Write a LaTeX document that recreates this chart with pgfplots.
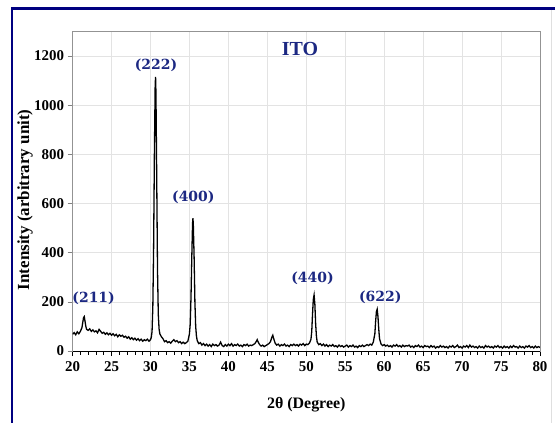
\documentclass[border=0pt]{standalone}
\usepackage{pgfplots}
\pgfplotsset{compat=1.18}
\usepackage{fontspec}
\setmainfont{Liberation Serif}
\newfontfamily\labfont{DejaVu Serif}
\definecolor{navyfr}{RGB}{0,0,128}
\definecolor{lblue}{RGB}{28,40,130}
\begin{document}
\begin{tikzpicture}
\begin{axis}[name=ax,
  scale only axis, width=467.4bp, height=319.6bp,
  xmin=20, xmax=80, ymin=0, ymax=1300,
  xtick={20,25,...,80}, ytick={0,200,...,1200},
  minor x tick num=4,
  tick align=outside,
  major tick length=5bp, minor tick length=3.5bp,
  xtick pos=bottom, ytick pos=left,
  grid=major, major grid style={gray!22, line width=0.6bp},
  axis line style={draw=gray!85, line width=0.8bp},
  x tick style={black, line width=0.6bp},
  y tick style={gray, line width=0.6bp},
  /pgf/number format/assume math mode=true,
  /pgf/number format/1000 sep={},
  ticklabel style={font=\bfseries\fontsize{15}{15}\selectfont, text=black},
  xticklabel style={yshift=-2bp},
  xlabel={2θ (Degree)}, ylabel={Intensity (arbitrary unit)},
  xlabel style={font=\bfseries\fontsize{16}{16}\selectfont, at={(axis description cs:0.5,0)}, anchor=center, yshift=-54bp},
  ylabel style={font=\bfseries\fontsize{17}{17}\selectfont, at={(axis description cs:-0.1018,0.473)}, anchor=center},
]
\addplot[black, line width=1.3bp] coordinates {
(20.0,68)(20.2,75)(20.4,66)(20.6,78)(20.8,70)(21.0,80)(21.2,95)(21.3,115)(21.4,135)(21.5,140)(21.6,120)(21.7,100)(21.8,88)
(22.0,84)(22.2,90)(22.4,80)(22.6,86)(22.8,78)(23.0,82)(23.2,74)(23.4,88)(23.6,80)(23.8,72)(24.0,76)(24.2,68)(24.4,74)(24.6,66)(24.8,72)
(25.0,64)(25.2,70)(25.4,62)(25.6,68)(25.8,58)(26.0,66)(26.2,60)(26.4,64)(26.6,56)(26.8,60)(27.0,52)(27.2,58)(27.4,48)(27.6,54)(27.8,46)
(28.0,52)(28.2,44)(28.4,50)(28.6,42)(28.8,48)(29.0,40)(29.2,46)(29.4,42)(29.6,48)(29.8,40)(30.0,46)(30.1,55)(30.2,80)(30.3,180)(30.4,420)
(30.5,800)(30.6,1080)(30.65,1115)(30.7,1050)(30.8,700)(30.9,330)(31.0,150)(31.1,90)(31.2,70)(31.4,58)(31.6,50)(31.8,38)
(32.0,42)(32.2,34)(32.4,38)(32.6,32)(32.8,40)(33.0,46)(33.2,38)(33.4,42)(33.6,34)(33.8,38)(34.0,30)(34.2,36)(34.4,30)(34.6,34)(34.8,40)
(35.0,70)(35.1,110)(35.2,220)(35.3,380)(35.4,520)(35.45,540)(35.5,510)(35.6,380)(35.7,200)(35.8,100)(35.9,60)(36.0,42)(36.2,30)(36.4,34)
(36.6,24)(36.8,30)(37.0,22)(37.2,28)(37.4,20)(37.6,26)(37.8,18)(38.0,28)(38.2,22)(38.4,26)(38.6,20)(38.8,24)(39.0,36)(39.2,22)(39.4,18)
(39.6,26)(39.8,20)(40.0,28)(40.2,22)(40.4,30)(40.6,20)(40.8,26)(41.0,22)(41.2,28)(41.4,20)(41.6,24)(41.8,18)(42.0,26)(42.2,22)(42.4,28)
(42.6,20)(42.8,24)(43.0,22)(43.2,26)(43.4,30)(43.6,40)(43.7,46)(43.8,38)(44.0,26)(44.2,20)(44.4,24)(44.6,18)(44.8,22)(45.0,26)(45.2,30)
(45.4,38)(45.6,58)(45.7,64)(45.8,52)(46.0,32)(46.2,24)(46.4,28)(46.6,20)(46.8,26)(47.0,22)(47.2,28)(47.4,20)(47.6,24)(47.8,18)(48.0,26)
(48.2,22)(48.4,28)(48.6,22)(48.8,26)(49.0,20)(49.2,28)(49.4,24)(49.6,30)(49.8,22)(50.0,28)(50.2,26)(50.4,32)(50.6,48)(50.7,80)(50.8,150)
(50.9,210)(51.0,228)(51.1,190)(51.2,110)(51.3,60)(51.4,36)(51.6,26)(51.8,30)(52.0,22)(52.2,28)(52.4,20)(52.6,26)(52.8,18)(53.0,24)
(53.2,20)(53.4,26)(53.6,18)(53.8,22)(54.0,16)(54.2,24)(54.4,18)(54.6,22)(54.8,16)(55.0,20)(55.2,24)(55.4,16)(55.6,22)(55.8,18)(56.0,24)
(56.2,16)(56.4,20)(56.6,14)(56.8,22)(57.0,18)(57.2,24)(57.4,18)(57.6,22)(57.8,26)(58.0,22)(58.2,28)(58.4,24)(58.6,36)(58.8,70)(58.9,120)
(59.0,160)(59.1,170)(59.2,140)(59.3,90)(59.4,50)(59.6,28)(59.8,22)(60.0,26)
(60.2,20)(60.4,24)(60.6,18)(60.8,22)(61.0,16)(61.2,24)(61.4,20)(61.6,26)(61.8,18)(62.0,22)(62.2,16)(62.4,24)(62.6,18)(62.8,22)(63.0,20)
(63.2,24)(63.4,16)(63.6,20)(63.8,14)(64.0,22)(64.2,18)(64.4,24)(64.6,16)(64.8,20)(65.0,14)(65.2,22)(65.4,18)(65.6,20)(65.8,14)(66.0,22)
(66.2,16)(66.4,20)(66.6,12)(66.8,18)(67.0,14)(67.2,22)(67.4,16)(67.6,20)(67.8,14)(68.0,18)(68.2,12)(68.4,20)(68.6,16)(68.8,22)(69.0,14)
(69.2,18)(69.4,24)(69.6,14)(69.8,18)(70.0,12)(70.2,20)(70.4,16)(70.6,22)(70.8,14)(71.0,24)(71.2,16)(71.4,20)(71.6,14)(71.8,18)(72.0,12)
(72.2,20)(72.4,14)(72.6,18)(72.8,12)(73.0,22)(73.2,16)(73.4,20)(73.6,14)(73.8,18)(74.0,12)(74.2,20)(74.4,16)(74.6,22)(74.8,14)(75.0,18)
(75.2,12)(75.4,20)(75.6,14)(75.8,18)(76.0,12)(76.2,20)(76.4,14)(76.6,22)(76.8,16)(77.0,18)(77.2,12)(77.4,20)(77.6,14)(77.8,18)(78.0,12)
(78.2,20)(78.4,16)(78.6,22)(78.8,14)(79.0,18)(79.2,12)(79.4,20)(79.6,14)(79.8,18)(80.0,14)
};
\draw[black, line width=0.8bp] (rel axis cs:0,0) -- (rel axis cs:1,0);
\node[text=lblue, font=\bfseries\fontsize{20}{20}\selectfont] at (axis cs:49.2,1228) {ITO};
\node[text=lblue, font=\labfont\bfseries\fontsize{14}{14}\selectfont] at (axis cs:30.7,1163) {(222)};
\node[text=lblue, font=\labfont\bfseries\fontsize{14}{14}\selectfont] at (axis cs:35.5,626) {(400)};
\node[text=lblue, font=\labfont\bfseries\fontsize{14}{14}\selectfont] at (axis cs:22.7,216) {(211)};
\node[text=lblue, font=\labfont\bfseries\fontsize{14}{14}\selectfont] at (axis cs:50.8,297) {(440)};
\node[text=lblue, font=\labfont\bfseries\fontsize{14}{14}\selectfont] at (axis cs:59.5,220) {(622)};
\end{axis}
\path[use as bounding box] ([xshift=-72.6bp,yshift=-72bp]ax.south west) rectangle ([xshift=482.4bp,yshift=351bp]ax.south west);
\draw[gray!25, line width=1bp] ([xshift=478.4bp,yshift=342bp]ax.south west) -- ([xshift=478.4bp,yshift=-90bp]ax.south west);
\draw[navyfr, line width=2.2bp] ([xshift=-60.6bp,yshift=-90bp]ax.south west) -- ([xshift=-60.6bp,yshift=342.5bp]ax.south west) -- ([xshift=490bp,yshift=342.5bp]ax.south west);
\end{tikzpicture}
\end{document}
